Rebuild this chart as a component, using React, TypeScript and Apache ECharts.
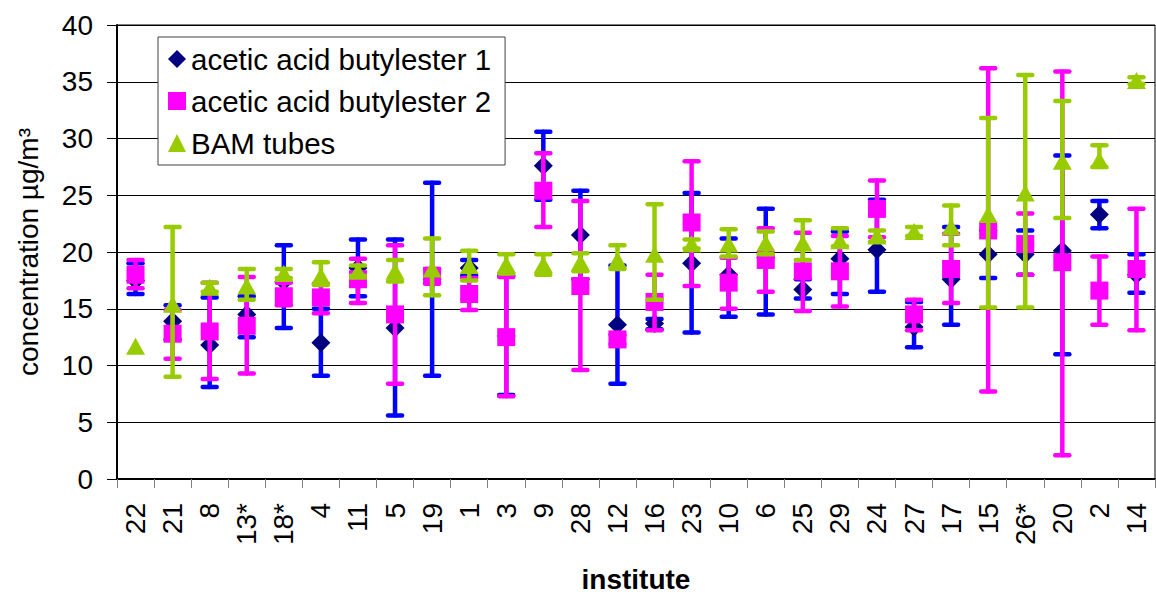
import React, { useEffect, useRef } from "react";
import * as echarts from "echarts";

const categories = ["22", "21", "8", "13*", "18*", "4", "11", "5", "19", "1", "3", "9", "28", "12", "16", "23", "10", "6", "25", "29", "24", "27", "17", "15", "26*", "20", "2", "14"];

const seriesNames = ["acetic acid butylester 1", "acetic acid butylester 2", "BAM tubes"];

// acetic acid butylester 1 (diamonds)
const ester1 = [17.5, 13.9, 11.8, 14.5, 17.4, 12.0, 18.6, 13.3, 17.6, 18.6, 12.6, 27.6, 21.5, 13.6, 13.7, 19.0, 18.0, 19.5, 16.7, 19.4, 20.2, 13.4, 17.6, 19.8, 19.8, 20.1, 23.3, 18.0];
const ester1Low = [16.3, 12.3, 8.1, 12.5, 13.3, 9.1, 16.1, 5.6, 9.1, 17.9, 7.4, 24.6, 17.6, 8.4, 13.2, 12.9, 14.3, 14.5, 15.9, 16.3, 16.5, 11.6, 13.6, 17.7, 18.0, 11.0, 22.1, 16.4];
const ester1High = [19.0, 15.3, 16.0, 16.1, 20.6, 15.0, 21.1, 21.1, 26.1, 19.3, 17.9, 30.6, 25.4, 18.8, 14.1, 25.2, 21.2, 23.8, 17.6, 21.8, 24.6, 15.6, 22.2, 21.9, 21.9, 28.5, 24.5, 19.8];

// acetic acid butylester 2 (squares)
const ester2 = [18.0, 12.8, 13.0, 13.5, 16.1, 16.0, 17.6, 14.5, 17.9, 16.3, 12.5, 25.4, 17.0, 12.3, 15.6, 22.6, 17.3, 19.3, 18.3, 18.3, 23.8, 14.5, 18.5, 21.9, 20.7, 19.1, 16.6, 18.5];
const ester2Low = [16.8, 10.6, 8.8, 9.3, 15.3, 14.6, 15.5, 8.4, 17.2, 14.9, 7.3, 22.2, 9.6, 11.9, 13.1, 17.0, 15.0, 16.5, 14.8, 15.2, 21.3, 13.1, 15.5, 7.7, 18.0, 2.1, 13.6, 13.1];
const ester2High = [19.3, 14.9, 17.3, 17.8, 17.3, 17.2, 19.4, 20.6, 18.5, 17.7, 17.8, 28.7, 24.5, 12.7, 18.0, 28.0, 19.5, 22.1, 21.7, 21.4, 26.3, 15.8, 21.6, 36.2, 23.4, 35.9, 19.6, 23.8];

// BAM tubes (triangles)
const bam = [11.7, 15.4, 16.9, 17.0, 18.1, 17.9, 18.3, 18.3, 18.5, 18.8, 18.9, 18.9, 19.1, 19.3, 19.8, 20.7, 20.7, 20.8, 20.8, 21.0, 21.4, 21.8, 22.2, 23.3, 25.2, 28.0, 28.1, 35.1];
const bamLow: (number | null)[] = [null, 9.0, 16.5, 15.8, 17.7, 17.1, 17.9, 17.4, 16.2, 17.5, 18.1, 18.0, 18.3, 18.5, 15.8, 20.3, 19.6, 19.8, 19.3, 20.5, 20.9, 21.4, 20.6, 15.1, 15.1, 23.0, 27.5, 34.8];
const bamHigh: (number | null)[] = [null, 22.2, 17.3, 18.5, 18.5, 19.1, 18.8, 19.3, 21.2, 20.1, 19.8, 19.8, 19.9, 20.6, 24.2, 21.1, 22.0, 21.8, 22.8, 22.1, 21.9, 22.2, 24.1, 31.8, 35.6, 33.3, 29.4, 35.4];

const FONT = "Liberation Sans, Arial, sans-serif";

function errData(low: (number | null)[], high: (number | null)[]) {
  const out: number[][] = [];
  low.forEach((l, i) => {
    const h = high[i];
    if (l != null && h != null) out.push([i, l, h]);
  });
  return out;
}

function errRender(color: string) {
  return (params: any, api: any) => {
    const x = api.value(0);
    const p1 = api.coord([x, api.value(1)]);
    const p2 = api.coord([x, api.value(2)]);
    const hw = 7;
    const style = { stroke: color, lineWidth: 4.5, lineCap: "round" };
    return {
      type: "group",
      children: [
        { type: "line", shape: { x1: p1[0], y1: p1[1], x2: p2[0], y2: p2[1] }, style },
        { type: "line", shape: { x1: p1[0] - hw, y1: p1[1], x2: p1[0] + hw, y2: p1[1] }, style },
        { type: "line", shape: { x1: p2[0] - hw, y1: p2[1], x2: p2[0] + hw, y2: p2[1] }, style },
      ],
    };
  };
}

export default function App() {
  const ref = useRef<HTMLDivElement>(null);
  useEffect(() => {
    if (!ref.current) return;
    const chart = echarts.init(ref.current, undefined, { renderer: "svg" });
    const option: any = {
      animation: false,
      backgroundColor: "#fff",
      textStyle: { fontFamily: FONT },
      grid: {
        left: 117,
        right: 1,
        top: 25,
        bottom: 120,
        show: true,
        borderColor: "#000",
        borderWidth: 1,
      },
      legend: {
        orient: "vertical",
        left: 158,
        top: 37,
        data: seriesNames,
        backgroundColor: "#fff",
        borderColor: "#404040",
        borderWidth: 1,
        borderRadius: 0,
        padding: [7, 14, 7, 10],
        itemGap: 12,
        itemWidth: 18,
        itemHeight: 18,
        textStyle: { fontSize: 29.5, color: "#000", fontFamily: FONT, lineHeight: 30 },
      },
      xAxis: {
        type: "category",
        data: categories,
        boundaryGap: true,
        name: "institute",
        nameLocation: "middle",
        nameGap: 86,
        nameTextStyle: { fontSize: 28, fontWeight: "bold", color: "#000", fontFamily: FONT },
        axisLine: { show: true, lineStyle: { color: "#000", width: 2 } },
        axisTick: { show: true, length: 9, alignWithLabel: false, lineStyle: { color: "#808080", width: 1 } },
        axisLabel: { rotate: 90, fontSize: 28, color: "#000", margin: 24, interval: 0, fontFamily: FONT },
        splitLine: { show: false },
      },
      yAxis: {
        type: "value",
        min: 0,
        max: 40,
        interval: 5,
        name: "concentration µg/m³",
        nameLocation: "middle",
        nameGap: 75,
        nameTextStyle: { fontSize: 28, color: "#000", fontFamily: FONT },
        axisLine: { show: true, lineStyle: { color: "#000", width: 2 } },
        axisTick: { show: true, inside: false, length: 10, lineStyle: { color: "#000", width: 1 } },
        axisLabel: { fontSize: 28, color: "#000", margin: 24, fontFamily: FONT },
        splitLine: { show: true, lineStyle: { color: "#000", width: 1 } },
      },
      series: [
        {
          name: "err1",
          type: "custom",
          renderItem: errRender("#0000FF"),
          data: errData(ester1Low, ester1High),
          encode: { x: 0, y: [1, 2] },
          z: 2,
          silent: true,
        },
        {
          name: seriesNames[0],
          type: "scatter",
          data: ester1,
          symbol: "diamond",
          symbolSize: [19, 19],
          itemStyle: { color: "#000080", opacity: 1 },
          z: 3,
        },
        {
          name: "err2",
          type: "custom",
          renderItem: errRender("#FF00FF"),
          data: errData(ester2Low, ester2High),
          encode: { x: 0, y: [1, 2] },
          z: 4,
          silent: true,
        },
        {
          name: seriesNames[1],
          type: "scatter",
          data: ester2,
          symbol: "rect",
          symbolSize: [18, 18],
          itemStyle: { color: "#FF00FF", opacity: 1 },
          z: 5,
        },
        {
          name: "err3",
          type: "custom",
          renderItem: errRender("#99CC00"),
          data: errData(bamLow, bamHigh),
          encode: { x: 0, y: [1, 2] },
          z: 6,
          silent: true,
        },
        {
          name: seriesNames[2],
          type: "scatter",
          data: bam,
          symbol: "triangle",
          symbolSize: [19, 17],
          itemStyle: { color: "#99CC00", opacity: 1 },
          z: 7,
        },
      ],
    };
    chart.setOption(option);
    return () => chart.dispose();
  }, []);
  return (
    <div
      ref={ref}
      style={{ position: "fixed", left: 0, top: 0, width: 1156, height: 599, background: "#fff" }}
    />
  );
}
